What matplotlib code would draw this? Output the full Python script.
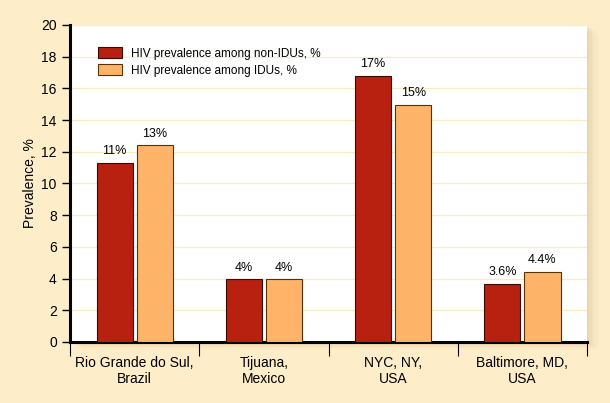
import numpy as np
import matplotlib.pyplot as plt
from matplotlib.patches import Rectangle

# dados
locais = ["Rio Grande do Sul,\nBrazil", "Tijuana,\nMexico", "NYC, NY,\nUSA", "Baltimore, MD,\nUSA"]
nao_udi = [11.3, 3.97, 16.8, 3.66]
udi = [12.4, 3.97, 14.95, 4.42]
rotulos_nao_udi = ["11%", "4%", "17%", "3.6%"]
rotulos_udi = ["13%", "4%", "15%", "4.4%"]
series = ["HIV prevalence among non-IDUs, %", "HIV prevalence among IDUs, %"]

plt.rcParams['font.family'] = ['Liberation Sans', 'DejaVu Sans']

fundo = '#FEEDC9'
fig = plt.figure(figsize=(6.1, 4.03), dpi=100, facecolor=fundo)
pos = [0.1148, 0.1514, 0.8475, 0.7866]

# sombra suave atras da area do grafico
for i, a in enumerate([0.05, 0.04, 0.03, 0.02, 0.015]):
    d = (i + 1) * 0.004
    fig.patches.append(Rectangle((pos[0] + d, pos[1] - d), pos[2], pos[3], transform=fig.transFigure,
                                 facecolor='#7a5a20', alpha=a, edgecolor='none', zorder=0))

ax = fig.add_axes(pos)
ax.set_zorder(2)
ax.set_facecolor('white')

x = np.arange(len(locais))
largura = 0.28
desloc = 0.155

b1 = ax.bar(x - desloc, nao_udi, largura, color='#B82010', edgecolor='#3a0a00', linewidth=0.8, label=series[0], zorder=3)
b2 = ax.bar(x + desloc, udi, largura, color='#FDB469', edgecolor='#5a3000', linewidth=0.8, label=series[1], zorder=3)

for barra, txt in zip(b1, rotulos_nao_udi):
    ax.text(barra.get_x() + barra.get_width() / 2, barra.get_height() + 0.35, txt,
            ha='center', va='bottom', fontsize=9)
for barra, txt in zip(b2, rotulos_udi):
    ax.text(barra.get_x() + barra.get_width() / 2, barra.get_height() + 0.35, txt,
            ha='center', va='bottom', fontsize=9)

ax.set_xlim(-0.5, len(locais) - 0.5)
ax.set_ylim(0, 20)
ax.set_yticks(np.arange(0, 21, 2))
ax.tick_params(axis='y', labelsize=10, length=6, width=1, direction='out')

# ticks entre grupos
ax.set_xticks(np.arange(-0.5, len(locais), 1))
ax.set_xticklabels([])
ax.set_xticks(x, minor=True)
ax.set_xticklabels(locais, minor=True, fontsize=10)
ax.tick_params(axis='x', which='major', length=10, width=0.8, direction='out')
ax.tick_params(axis='x', which='minor', length=0, pad=10)

ax.yaxis.grid(True, color='#F7EBC8', linewidth=1, zorder=0)

for lado in ['top', 'right']:
    ax.spines[lado].set_visible(False)
ax.spines['left'].set_linewidth(2.2)
ax.spines['bottom'].set_linewidth(2.2)

ax.set_ylabel('Prevalence, %', fontsize=10, labelpad=3)

ax.legend(loc='upper left', bbox_to_anchor=(0.045, 0.945), frameon=False, fontsize=8.5,
          handlelength=2.0, handleheight=1.1, labelspacing=0.35, borderaxespad=0)

fig.savefig('out.png', dpi=100, facecolor=fundo)
